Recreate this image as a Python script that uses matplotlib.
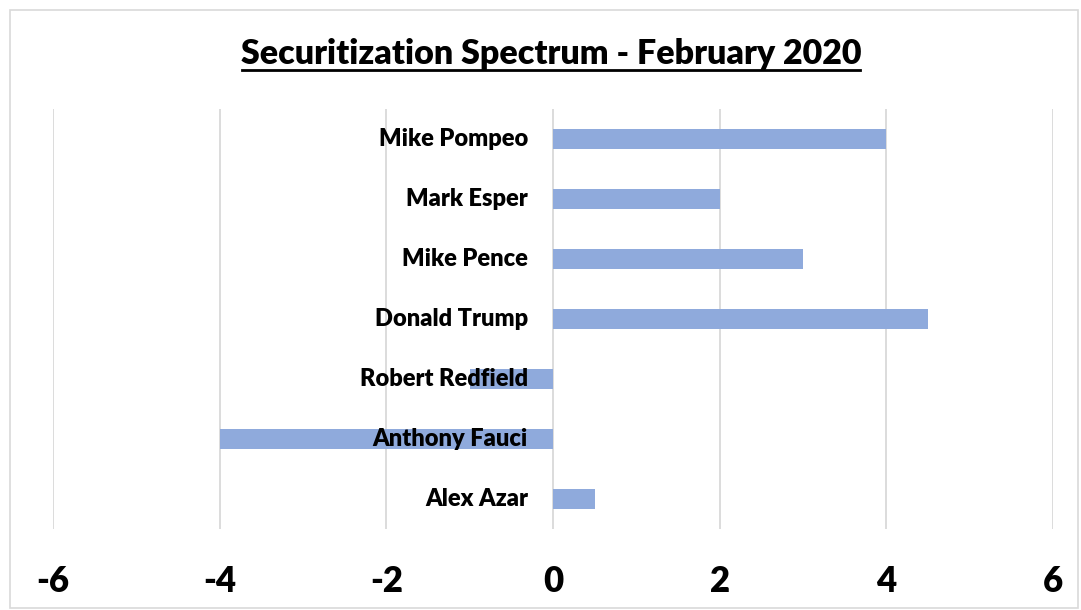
import matplotlib.pyplot as plt
import matplotlib.transforms as mtransforms
from matplotlib.patches import Rectangle

# data, top to bottom
names = ['Mike Pompeo', 'Mark Esper', 'Mike Pence', 'Donald Trump',
         'Robert Redfield', 'Anthony Fauci', 'Alex Azar']
scores = [4, 2, 3, 4.5, -1, -4, 0.5]
ticks = [-6, -4, -2, 0, 2, 4, 6]

plt.rcParams['font.family'] = ['Lato', 'DejaVu Sans']

fig = plt.figure(figsize=(10.81, 6.10), dpi=100)
ax = fig.add_axes([53 / 1081, 1 - 529 / 610, 1000 / 1081, 420 / 610])

# outer chart border
fig.patches.append(Rectangle((10 / 1081, 2 / 610), 1068 / 1081, 598 / 610,
                             transform=fig.transFigure, fill=False,
                             edgecolor='#D9D9D9', linewidth=1.2))

ypos = list(range(len(names)))[::-1]
ax.barh(ypos, scores, height=0.33, color='#8FAADC', zorder=2)

# labels sit just left of zero
offset = mtransforms.offset_copy(ax.transData, fig=fig, x=-25, y=0, units='dots')
for y, name in zip(ypos, names):
    ax.text(0, y, name, transform=offset, ha='right', va='center',
            fontsize=17, fontweight='heavy', color='black', zorder=3)

ax.set_xlim(-6, 6)
ax.set_ylim(-0.5, len(names) - 0.5)
ax.set_xticks(ticks)
ax.set_xticklabels([str(t) for t in ticks], fontsize=25, fontweight='heavy')
ax.set_yticks([])
ax.tick_params(axis='x', length=0, pad=26)
ax.grid(axis='x', color='#D9D9D9', linewidth=1.3, zorder=0)
for s in ax.spines.values():
    s.set_visible(False)

fig.text(551 / 1081, 1 - 64 / 610, 'Securitization Spectrum - February 2020',
         ha='center', va='baseline', fontsize=24.5, fontweight='heavy')
# underline
fig.add_artist(plt.Line2D([242 / 1081, 860 / 1081], [1 - 70 / 610, 1 - 70 / 610],
                          color='black', linewidth=2))

fig.savefig('out.png', dpi=100)
